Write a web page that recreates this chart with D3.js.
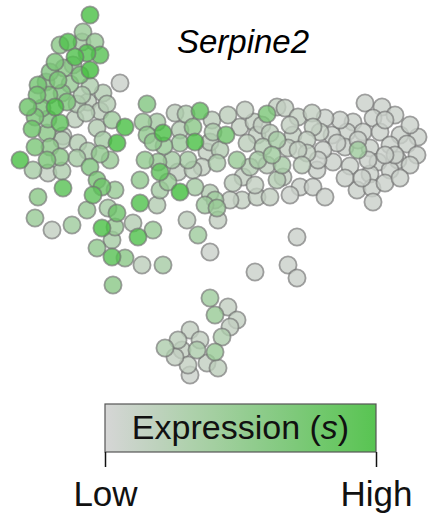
<!DOCTYPE html>
<html>
<head>
<meta charset="utf-8">
<script src="https://cdn.jsdelivr.net/npm/d3@7"></script>
<style>
  html, body { margin: 0; padding: 0; background: #fff; }
  svg { display: block; font-family: "Liberation Sans", Arial, Helvetica, sans-serif; }
</style>
</head>
<body>
<script>
// embedding coordinates [umap1, umap2, expression s (0..1)]
const cellsArm = [
  [90,385,.95],[83,368,.4],[68,358,.9],[60,355,.5],[82,358,.3],[95,358,.4],[87,347,.9],[100,345,.85],
  [75,343,.9],[90,330,1],[55,338,.6],[50,328,.55],[64,332,.5],[73,335,.35],[80,325,.6],[58,320,.6],
  [46,318,.5],[38,315,.65],[120,317,.05],[90,314,.25],[70,316,.4],[37,305,.65],[49,305,.6],[62,307,.55],
  [82,305,.25],[103,307,.2],[28,293,.7],[42,292,.6],[55,293,.95],[67,298,.6],[77,296,.2],[88,298,.15],
  [107,296,.2],[35,283,.6],[48,281,.55],[60,277,.8],[75,281,.15],[86,287,.2],[100,289,.15],[112,280,.35],
  [125,273,.95],[32,271,.7],[47,267,.5],[63,264,.1],[97,272,.2],[35,253,.6],[50,253,.5],[62,260,.2],
  [78,257,.2],[88,249,.25],[100,246,.45],[117,257,1],[103,260,.3],[20,240,.95],[47,240,.6],[60,243,.5],
  [77,242,.3],[110,240,.4],[33,230,.3],[48,227,.1],[62,229,.25],[90,233,.55],[63,212,.85],[38,203,.5],
  [93,205,.8],[102,213,.7],[97,220,.6],[115,210,.4],[87,190,.4],[35,182,.4],[52,170,.1],[72,175,.35],
  [108,192,.3],[117,187,.7],[102,172,.95],[115,173,.4],[133,177,.2],[138,163,.9],[153,170,.4],[112,160,.3],
  [97,152,.45],[112,143,.85],[125,142,.5],[142,135,.15],[163,135,.3],[113,115,.5]
];

const cellsMid = [
  [147,296,.55],[143,278,.4],[157,278,.3],[147,265,.45],[163,267,.95],[175,287,.15],[186,286,.25],[200,289,.8],
  [212,280,.15],[193,273,.5],[180,270,.2],[195,258,.95],[180,257,.35],[164,254,.4],[153,258,.45],[210,258,.15],
  [213,268,.25],[226,265,.7],[207,248,.1],[220,250,.2],[217,237,.25],[202,233,.1],[188,240,.3],[172,240,.3],
  [158,238,.4],[160,228,.8],[178,228,.1],[193,230,.15],[140,220,.45],[160,210,.3],[180,208,1],[195,213,.3],
  [210,207,.2],[215,200,.35],[205,195,.35],[217,192,.4],[140,197,.9],[157,195,.2],[187,180,.15],[218,180,.1],
  [198,165,.35],[210,148,.05],[145,240,.45],[168,218,.4]
];

const cellsBody = [
  [240,273,.1],[254,278,.1],[267,286,.6],[277,293,.1],[257,265,.1],[270,267,.15],[247,257,.15],[263,253,.2],
  [277,260,.3],[237,240,.4],[250,233,.2],[267,235,.15],[272,245,.35],[233,217,.15],[243,223,.1],[242,200,.1],
  [257,203,.1],[270,203,.1],[277,220,.2],[285,292,.1],[298,283,.1],[312,287,.1],[365,297,.05],[382,293,.05],
  [395,285,.05],[373,282,.05],[353,278,.05],[347,268,.05],[363,268,.05],[380,268,.05],[400,265,.05],[418,263,.05],
  [332,265,.05],[345,253,.05],[358,250,.35],[370,252,.05],[390,255,.05],[407,256,.05],[417,245,.05],[398,240,.05],
  [333,238,.05],[350,234,.05],[378,238,.05],[390,230,.05],[410,235,.05],[370,226,.05],[357,210,.05],[372,212,.05],
  [373,198,.05],[313,273,.1],[293,265,.1],[307,260,.1],[320,268,.08],[288,252,.1],[307,247,.1],[337,257,.05],
  [282,235,.3],[283,223,.1],[302,235,.15],[317,230,.05],[300,213,.05],[313,213,.05],[325,203,.05],[258,240,.3],
  [395,245,.05],[385,280,.05],[340,280,.05],[358,260,.05],[385,245,.05],[345,222,.05],[362,222,.05],[385,217,.05],
  [400,222,.05],[323,250,.05],[410,275,.05],[368,240,.05],[228,285,.15],[245,290,.1],[262,275,.1],[290,275,.1],
  [325,282,.05],[298,250,.1],[318,240,.05],[255,215,.1],[290,205,.05],[230,200,.1]
];

const cellsStray = [
  [297,163,.05],[288,135,.05],[297,122,.05],[255,128,.05]
];

const cellsIsland = [
  [210,102,.35],[228,93,.1],[237,80,.1],[230,73,.1],[215,85,.4],[222,63,.25],[190,70,.1],[178,60,.15],
  [200,60,.1],[215,48,.4],[165,52,.25],[182,50,.1],[197,50,.25],[188,35,.1],[207,37,.1],[218,32,.15],
  [190,25,.05],[175,43,.1]
];

const geneName    = "Serpine2";
const legendTitle = "Expression";
const legendTicks = ["Low", "High"];

const width = 437, height = 520;

const cells = [...cellsArm, ...cellsMid, ...cellsBody, ...cellsStray, ...cellsIsland]
  .map(([u1, u2, s]) => ({ u1, u2, s }))
  .sort((a, b) => a.s - b.s);

const x = d3.scaleLinear().domain([0, 437]).range([0, 437]);
const y = d3.scaleLinear().domain([0, 400]).range([400, 0]);
const color = d3.scaleLinear().domain([0, 1]).range(["#d0d0d0", "#41be3c"]).interpolate(d3.interpolateRgb);

const svg = d3.select("body").append("svg")
  .attr("width", width)
  .attr("height", height);

svg.append("g")
  .selectAll("circle")
  .data(cells)
  .join("circle")
    .attr("cx", d => x(d.u1))
    .attr("cy", d => y(d.u2))
    .attr("r", 8.6)
    .attr("fill", d => color(d.s))
    .attr("fill-opacity", 0.8)
    .attr("stroke", "#707070")
    .attr("stroke-opacity", 0.65)
    .attr("stroke-width", 1.8);

svg.append("text")
  .attr("x", 243)
  .attr("y", 53)
  .attr("text-anchor", "middle")
  .attr("font-size", 33)
  .attr("font-style", "italic")
  .text(geneName);

// colour bar
const bar = d3.scaleLinear().domain([0, 1]).range([105, 376]);
const barTop = 404, barH = 48;
const barColor = d3.scaleLinear().domain([0, 1]).range(["#d6d6d6", "#58c452"]);

const grad = svg.append("defs").append("linearGradient")
  .attr("id", "expr");
grad.selectAll("stop")
  .data(d3.range(0, 1.001, 0.1))
  .join("stop")
    .attr("offset", d => d)
    .attr("stop-color", d => barColor(d));

svg.append("rect")
  .attr("x", bar(0))
  .attr("y", barTop)
  .attr("width", bar(1) - bar(0))
  .attr("height", barH)
  .attr("fill", "url(#expr)")
  .attr("stroke", "#555")
  .attr("stroke-width", 1.2);

const label = svg.append("text")
  .attr("x", (bar(0) + bar(1)) / 2)
  .attr("y", 439)
  .attr("text-anchor", "middle")
  .attr("font-size", 34)
  .attr("fill", "#111");
label.append("tspan").text(legendTitle + " (");
label.append("tspan").attr("font-style", "italic").text("s");
label.append("tspan").text(")");

const axis = svg.append("g")
  .attr("transform", `translate(0,${barTop + barH})`)
  .call(d3.axisBottom(bar)
    .tickValues([0, 1])
    .tickFormat((d, i) => legendTicks[i])
    .tickSize(15)
    .tickPadding(14));

axis.select(".domain").remove();
axis.selectAll(".tick line").attr("stroke", "#111").attr("stroke-width", 1.5);
axis.selectAll(".tick text")
  .attr("font-size", 35)
  .attr("font-family", "Liberation Sans, Arial, sans-serif")
  .attr("fill", "#111");
</script>
</body>
</html>
